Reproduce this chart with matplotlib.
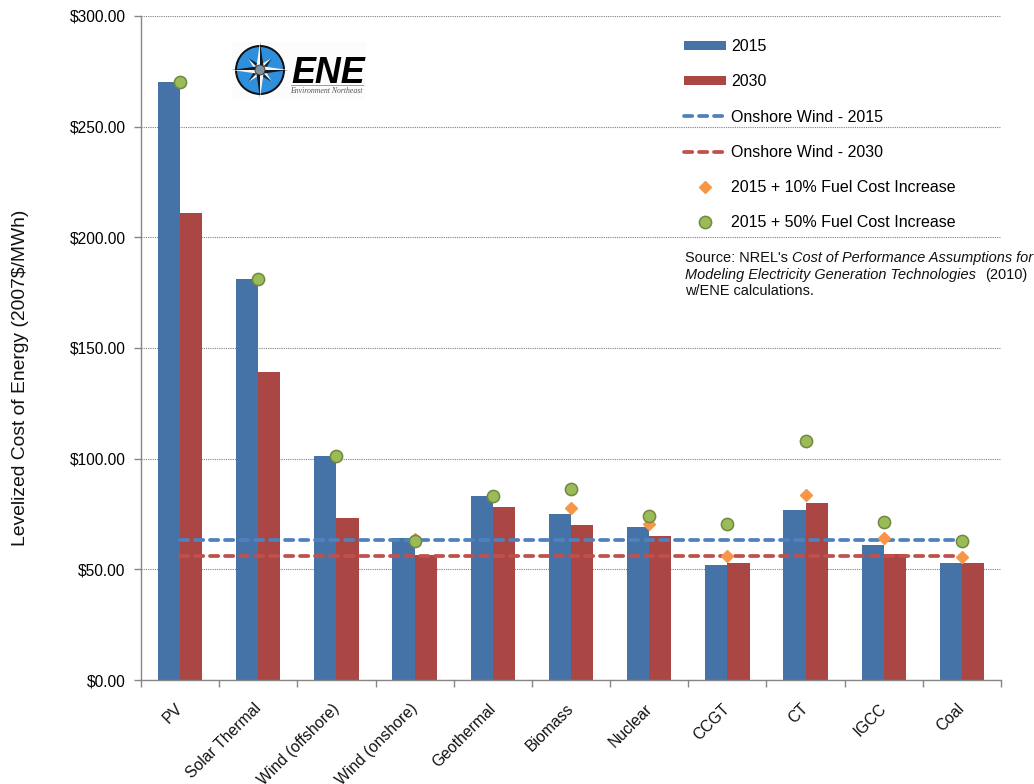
import matplotlib
matplotlib.use("Agg")
import matplotlib.pyplot as plt
import numpy as np
from matplotlib.patches import Circle, Polygon, Rectangle

plt.rcParams['font.family'] = ['Liberation Sans', 'DejaVu Sans']

categories = ["PV", "Solar Thermal", "Wind (offshore)", "Wind (onshore)", "Geothermal",
              "Biomass", "Nuclear", "CCGT", "CT", "IGCC", "Coal"]
cost_2015 = [270, 181, 101, 64, 83, 75, 69, 52, 77, 61, 53]
cost_2030 = [211, 139, 73, 56.5, 78, 70, 65, 53, 80, 57, 53]
fuel_10 = [270, 181, 101, 63.5, 83, 77.5, 70.5, 56, 83.5, 64, 55.5]
fuel_50 = [270, 181, 101, 63, 83, 86.5, 74, 70.5, 108, 71.5, 63]
onshore_2015 = 63.3
onshore_2030 = 56
y_ticks = [0, 50, 100, 150, 200, 250, 300]

W, H = 1034, 784
BLUE = '#4572a7'
RED = '#aa4643'


def draw_star(ov, cx, cy, r_long, r_short, start, light, dark):
    # each point is split in two halves to give the faceted compass look
    for i in range(len(start)):
        a = np.radians(start[i])
        tip = (cx + r_long * np.cos(a), cy + r_long * np.sin(a))
        for side, col in ((-1, light), (1, dark)):
            b = a + side * np.radians(45)
            base = (cx + r_short * np.cos(b), cy + r_short * np.sin(b))
            ov.add_patch(Polygon([(cx, cy), base, tip], closed=True, fc=col, ec='none', zorder=4))


def draw_logo(ov):
    ov.add_patch(Rectangle((232, 42), 134, 58, fc='#fcfcfc', ec='none', zorder=1))
    ov.add_patch(Circle((260, 70), 25, fc='#111111', ec='none', zorder=2))
    ov.add_patch(Circle((260, 70), 23, fc='#2e8fdd', ec='none', zorder=3))
    draw_star(ov, 260, 70, 17, 5, [45, 135, 225, 315], '#e8eef4', '#10202c')
    draw_star(ov, 260, 70, 28, 5, [0, 90, 180, 270], '#f4f4f4', '#15181c')
    ov.add_patch(Circle((260, 70), 5, fc='#7f929e', ec='#333333', lw=0.6, zorder=5))
    ov.text(291, 82.5, "ENE", fontsize=25.8, fontweight='bold', fontstyle='italic',
            color='black', ha='left', va='baseline', zorder=5)
    ov.plot([291, 363], [84.5, 84.5], color='#999999', lw=0.7, zorder=5)
    ov.text(290, 92.5, "Environment Northeast", fontsize=5.6, fontstyle='italic',
            family='Liberation Serif', color='#555555', ha='left', va='baseline', zorder=5)


fig = plt.figure(figsize=(W / 100, H / 100), dpi=100)
ax = fig.add_axes([141 / W, 1 - 680 / H, 860 / W, 664 / H])

x = np.arange(len(categories))
bar_w = 0.284
bars_2015 = ax.bar(x - bar_w / 2, cost_2015, bar_w, color=BLUE, label="2015", zorder=2)
bars_2030 = ax.bar(x + bar_w / 2, cost_2030, bar_w, color=RED, label="2030", zorder=2)

line_2015, = ax.plot(x, [onshore_2015] * len(x), color='#4f81bd', lw=2.7, dashes=(2.2, 1.8),
                     dash_capstyle='round', label="Onshore Wind - 2015", zorder=3)
line_2030, = ax.plot(x, [onshore_2030] * len(x), color='#c0504d', lw=2.7, dashes=(2.2, 1.8),
                     dash_capstyle='round', label="Onshore Wind - 2030", zorder=3)
pts_10, = ax.plot(x, fuel_10, ls='none', marker='D', ms=6, mfc='#f79646', mec='#f79646',
                  label="2015 + 10% Fuel Cost Increase", zorder=4)
pts_50, = ax.plot(x, fuel_50, ls='none', marker='o', ms=8.8, mfc='#9bbb59', mec='#71893f', mew=1.1,
                  label="2015 + 50% Fuel Cost Increase", zorder=5)

ax.set_xlim(-0.5, len(categories) - 0.5)
ax.set_ylim(0, 300)
ax.set_yticks(y_ticks)
ax.set_yticklabels(["\\$%.2f" % v for v in y_ticks], fontsize=11.2, color='black')

# category names are annotated by hand so they can sit left of the group centre
ax.set_xticks(np.arange(len(categories) + 1) - 0.5)
ax.set_xticklabels([])
for i, name in enumerate(categories):
    ax.annotate(name, xy=(i, 0), xycoords=ax.get_xaxis_transform(), xytext=(-3.5, -15),
                textcoords='offset points', rotation=45, ha='right', va='top',
                rotation_mode='anchor', fontsize=11.3, color='#111111', annotation_clip=False)
ax.tick_params(axis='x', length=5, color='#868686', width=1)
ax.tick_params(axis='y', length=5, color='#868686', width=1, pad=6)

ax.yaxis.grid(True, color='#808080', lw=0.8, ls=(0, (1, 1)), zorder=0)
ax.set_axisbelow(True)
for side in ['top', 'right']:
    ax.spines[side].set_visible(False)
for side in ['left', 'bottom']:
    ax.spines[side].set_color('#868686')
    ax.spines[side].set_linewidth(1)

fig.text(21 / W, 1 - 378 / H, "Levelized Cost of Energy (2007$/MWh)", rotation=90,
         fontsize=13.9, ha='center', va='center', color='#111111')

handles = [bars_2015, bars_2030, line_2015, line_2030, pts_10, pts_50]
leg = ax.legend(handles=handles, loc='upper left', bbox_to_anchor=(684 / W, 1 - 39 / H),
                bbox_transform=fig.transFigure, frameon=False, fontsize=11.5,
                borderpad=0, borderaxespad=0, handlelength=2.63, handleheight=0.5,
                handletextpad=0.31, labelspacing=1.27, numpoints=1)
leg.set_zorder(6)

# overlay in pixel coordinates for the logo and the source note
ov = fig.add_axes([0, 0, 1, 1], facecolor='none')
ov.set_xlim(0, W)
ov.set_ylim(H, 0)
ov.axis('off')
draw_logo(ov)

src = dict(fontsize=10.45, color='#111111', ha='left', va='baseline', zorder=6)
ov.text(685, 262, "Source: NREL's", **src)
ov.text(792, 262, "Cost of Performance Assumptions for", fontstyle='italic', **src)
ov.text(685, 278.5, "Modeling Electricity Generation Technologies", fontstyle='italic', **src)
ov.text(985, 278.5, "(2010)", **src)
ov.text(685, 295, "w/ENE calculations.", **src)

fig.savefig("out.png", dpi=100)
